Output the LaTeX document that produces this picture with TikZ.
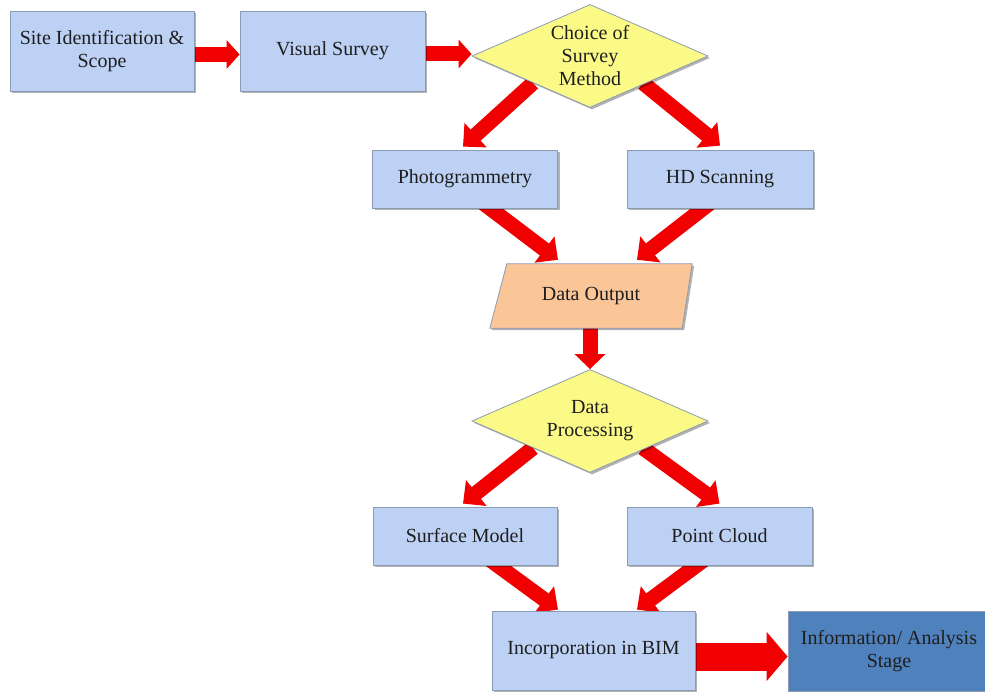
\documentclass[tikz,border=0pt]{standalone}
\usepackage{fontspec}
\setmainfont{Liberation Serif}
\usetikzlibrary{shapes.geometric,arrows.meta,calc,shadows}
\definecolor{boxblue}{RGB}{189,209,244}
\definecolor{boxedge}{RGB}{140,155,180}
\definecolor{dyellow}{RGB}{252,250,135}
\definecolor{dorange}{RGB}{250,198,152}
\definecolor{infoblue}{RGB}{79,129,189}
\definecolor{arrowred}{RGB}{240,0,0}
\definecolor{txt}{RGB}{30,30,30}
\pgfdeclarelayer{bottom}
\pgfdeclarelayer{background}
\pgfdeclarelayer{shapes}
\pgfsetlayers{bottom,background,shapes,main}
\tikzset{
  every node/.style={font=\rmfamily\fontsize{20}{23}\selectfont, text=txt, align=center},
  shad/.style={drop shadow={shadow xshift=2pt, shadow yshift=-2pt, opacity=0.3, fill=black}},
  bluebox/.style={rectangle, draw=boxedge, line width=0.8pt, fill=boxblue, inner sep=0pt, shad},
  decision/.style={diamond, draw=boxedge, line width=0.8pt, fill=dyellow, inner xsep=-45pt, inner ysep=-34pt, minimum width=236pt, minimum height=103pt, shad},
  redarrow/.style={draw=arrowred, line width=15pt, -{Triangle[length=17pt,width=32pt]}},
  bigarrow/.style={draw=arrowred, line width=28pt, -{Triangle[length=21pt,width=48pt]}}
}
\begin{document}
\begin{tikzpicture}[x=1pt,y=-1pt]
\useasboundingbox (0,0) rectangle (985,692);
\begin{pgfonlayer}{bottom}
\fill[white] (0,0) rectangle (985,692);
\end{pgfonlayer}
\node[bluebox, minimum width=184pt, minimum height=80pt] (site) at (102,51) {Site Identification \&\\Scope};
\node[bluebox, minimum width=185pt, minimum height=80pt] (visual) at (332.5,51) {Visual Survey};
\node[decision] (choice) at (590,56) {Choice of\\Survey\\Method};
\node[bluebox, minimum width=185pt, minimum height=58pt] (photo) at (465,179) {Photogrammetry};
\node[bluebox, minimum width=186pt, minimum height=58pt] (hd) at (720,179) {HD Scanning};
\node[rectangle, inner sep=0pt, minimum width=202pt, minimum height=64pt] (dataout) at (591,296) {Data Output};
\node[decision] (proc) at (590,421) {Data\\Processing};
\node[bluebox, minimum width=184pt, minimum height=58pt] (surf) at (465,536) {Surface Model};
\node[bluebox, minimum width=185pt, minimum height=58pt] (pc) at (719.5,536) {Point Cloud};
\node[bluebox, minimum width=203pt, minimum height=79pt] (bim) at (593.5,650.5) {Incorporation in BIM};
\node[rectangle, draw=boxedge, line width=0.8pt, fill=infoblue, inner sep=0pt, minimum width=202pt, minimum height=80pt, shad] (info) at (889,651) {Information/ Analysis\\Stage};
\begin{pgfonlayer}{shapes}
\draw[draw=boxedge, line width=0.8pt, fill=dorange, shad] ($(dataout.north west)+(17,0)$) -- (dataout.north east) -- ($(dataout.south east)+(-10,0)$) -- (dataout.south west) -- cycle;
\end{pgfonlayer}
\begin{pgfonlayer}{background}
\draw[redarrow, -{Triangle[length=13pt,width=28pt]}] ($(site.east)+(0,3.5)$) -- ($(visual.west)+(0,3.5)$);
\draw[redarrow, -{Triangle[length=13pt,width=28pt]}] ($(visual.east)+(0,3)$) -- ($(choice.west)+(0,-2)$);
\draw[redarrow] ($(choice.center)+(-57,27)$) -- ($(photo.north)+(-2,-3)$);
\draw[redarrow] ($(choice.center)+(53,27)$) -- ($(hd.north)+(0,-4)$);
\draw[redarrow] ($(photo.south)+(12,-10)$) -- ($(dataout.north)+(-33,-4)$);
\draw[redarrow] ($(hd.south)+(-4,-10)$) -- ($(dataout.north)+(46,-4)$);
\draw[redarrow, -{Triangle[length=15pt,width=30pt]}] (dataout.south -| proc.north) -- (proc.north);
\draw[redarrow] ($(proc.center)+(-57,27)$) -- ($(surf.north)+(-2,-3)$);
\draw[redarrow] ($(proc.center)+(53,27)$) -- ($(pc.north)+(0,-3)$);
\draw[redarrow] ($(surf.south)+(19,-10)$) -- ($(bim.north)+(-35.5,-1)$);
\draw[redarrow] ($(pc.south)+(-9.5,-10)$) -- ($(bim.north)+(43.5,-1)$);
\draw[bigarrow] ($(bim.east)+(0,6)$) -- ($(info.west)+(0,5.5)$);
\end{pgfonlayer}
\end{tikzpicture}
\end{document}
